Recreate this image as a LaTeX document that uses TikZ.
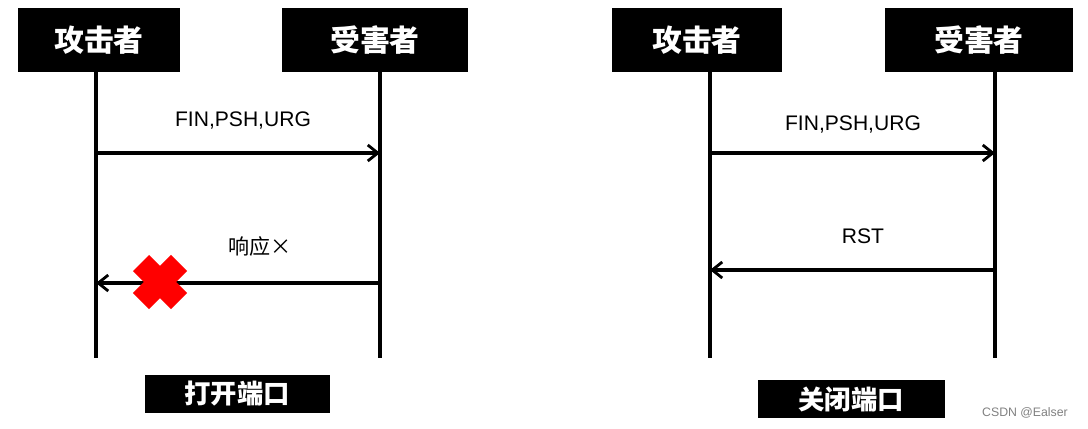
\documentclass[tikz,border=0pt]{standalone}
\usepackage{fontspec}
\setmainfont{Liberation Sans}
\newfontfamily\cjk{Noto Sans CJK SC}
\usetikzlibrary{arrows.meta}
\tikzset{%
    >={Straight Barb[width=3.2mm,length=2mm,line width=1.6pt]},
    role/.style = {fill=black, text=white, font=\cjk\bfseries\fontsize{17}{20}\selectfont,
        inner sep=0pt},
    portbox/.style = {fill=black, text=white, font=\cjk\bfseries\fontsize{15}{18}\selectfont,
        inner sep=0pt},
    lifeline/.style = {line width=2.2pt},
    msg/.style = {line width=1.8pt, ->},
    msglabel/.style = {font=\fontsize{12}{14}\selectfont},
}
\begin{document}
\begin{tikzpicture}[x=0.02cm, y=-0.02cm]
    \useasboundingbox (0,0) rectangle (1088,429);
    % Left panel
    \node (attA) [role, minimum width=162*0.02cm, minimum height=64*0.02cm] at (99,40) {攻击者};
    \node (vicA) [role, minimum width=186*0.02cm, minimum height=64*0.02cm] at (375,40) {受害者};
    \draw[lifeline] (96,72) -- (96,358);
    \draw[lifeline] (380,72) -- (380,358);
    \coordinate (a1) at (96,153);  \coordinate (b1) at (380,153);
    \coordinate (a2) at (96,283);  \coordinate (b2) at (380,283);
    \draw[msg] (a1) -- (b1);
    \draw[msg] (b2) -- (a2);
    \node (finA) [msglabel] at (243,120) {FIN,PSH,URG};
    \node (resp) [msglabel, font=\cjk\fontsize{12}{14}\selectfont] at (260,246) {响应×};
    \draw[red, line width=13pt] (141,263) -- (179,301) (141,301) -- (179,263);
    \node (openP) [portbox, minimum width=185*0.02cm, minimum height=38*0.02cm] at (237,394) {打开端口};
    % Right panel
    \node (attB) [role, minimum width=170*0.02cm, minimum height=64*0.02cm] at (697,40) {攻击者};
    \node (vicB) [role, minimum width=188*0.02cm, minimum height=64*0.02cm] at (979,40) {受害者};
    \draw[lifeline] (710,72) -- (710,358);
    \draw[lifeline] (995,72) -- (995,358);
    \coordinate (c1) at (710,153); \coordinate (d1) at (995,153);
    \coordinate (c2) at (710,270); \coordinate (d2) at (995,270);
    \draw[msg] (c1) -- (d1);
    \draw[msg] (d2) -- (c2);
    \node (finB) [msglabel] at (853,124) {FIN,PSH,URG};
    \node (rst) [msglabel] at (863,236) {RST};
    \node (closeP) [portbox, minimum width=187*0.02cm, minimum height=38*0.02cm] at (851,399) {关闭端口};
    \node (mark) [text=gray, font=\fontsize{7}{8}\selectfont] at (1025,413) {CSDN @Ealser};
\end{tikzpicture}
\end{document}
